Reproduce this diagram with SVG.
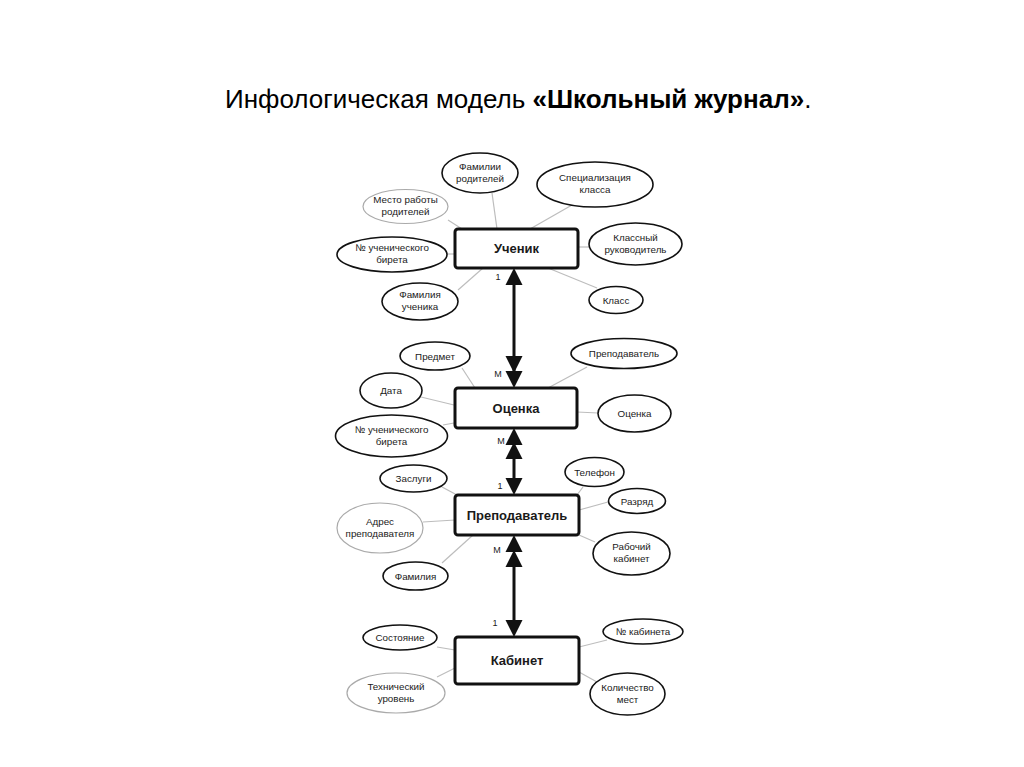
<svg xmlns="http://www.w3.org/2000/svg" xmlns:xlink="http://www.w3.org/1999/xlink" width="1024" height="767" viewBox="0 0 1024 767">
<style>
text{font-family:"Liberation Sans",Arial,sans-serif;fill:#1a1a1a}
.title{font-size:26px;fill:#000}
.ent rect{fill:#fff;stroke:#111;stroke-width:3}
.ent text{font-size:13px;font-weight:bold;text-anchor:middle}
.att ellipse{fill:#fff;stroke:#111;stroke-width:1.6}
.att.g ellipse{stroke:#aaa;stroke-width:1.2}
.att text{font-size:9.8px;text-anchor:middle}
.conn line.a{stroke:#bdbdbd;stroke-width:1.2}
.conn line.r{stroke:#111;stroke-width:3}
.conn use{fill:#111}
.card{font-size:9px;text-anchor:middle}
</style>
<defs>
<polygon id="up" points="0,0 -8.5,17 8.5,17"/>
<polygon id="dn" points="0,0 -8.5,-17 8.5,-17"/>
</defs>
<rect width="1024" height="767" fill="#fff"/>
<text class="title" x="225" y="108">Инфологическая модель <tspan font-weight="bold">«Школьный журнал»</tspan>.</text>

<g class="conn" id="connectors">
<line class="a" x1="448" y1="220" x2="462" y2="229"/>
<line class="a" x1="492" y1="193" x2="497" y2="229"/>
<line class="a" x1="572" y1="205" x2="530" y2="229"/>
<line class="a" x1="447" y1="254" x2="455" y2="254"/>
<line class="a" x1="578" y1="247" x2="589" y2="247"/>
<line class="a" x1="458" y1="290" x2="483" y2="268"/>
<line class="a" x1="597" y1="288" x2="548" y2="268"/>
<line class="a" x1="462" y1="368" x2="475" y2="388"/>
<line class="a" x1="587" y1="367" x2="548" y2="388"/>
<line class="a" x1="421" y1="397" x2="454" y2="405"/>
<line class="a" x1="577" y1="412" x2="598" y2="413"/>
<line class="a" x1="443" y1="425" x2="454" y2="423"/>
<line class="a" x1="442" y1="487" x2="457" y2="495"/>
<line class="a" x1="583" y1="487" x2="577" y2="495"/>
<line class="a" x1="608" y1="502" x2="579" y2="510"/>
<line class="a" x1="423" y1="522" x2="455" y2="520"/>
<line class="a" x1="595" y1="542" x2="579" y2="535"/>
<line class="a" x1="442" y1="563" x2="473" y2="535"/>
<line class="a" x1="437" y1="647" x2="455" y2="650"/>
<line class="a" x1="607" y1="640" x2="579" y2="647"/>
<line class="a" x1="437" y1="677" x2="455" y2="668"/>
<line class="a" x1="597" y1="682" x2="579" y2="672"/>
<line class="r" x1="514" y1="280" x2="514" y2="375"/>
<line class="r" x1="514" y1="450" x2="514" y2="485"/>
<line class="r" x1="514" y1="560" x2="514" y2="625"/>
<use xlink:href="#up" x="514" y="268"/>
<use xlink:href="#dn" x="514" y="373"/>
<use xlink:href="#dn" x="514" y="388"/>
<use xlink:href="#up" x="514" y="428"/>
<use xlink:href="#up" x="514" y="442"/>
<use xlink:href="#dn" x="514" y="495"/>
<use xlink:href="#up" x="514" y="535"/>
<use xlink:href="#up" x="514" y="550"/>
<use xlink:href="#dn" x="514" y="637"/>
<text class="card" x="498" y="280">1</text>
<text class="card" x="498" y="377">M</text>
<text class="card" x="501" y="444">M</text>
<text class="card" x="500" y="489">1</text>
<text class="card" x="497" y="553">M</text>
<text class="card" x="495" y="626">1</text>
</g>

<g class="ent" id="uchenik"><rect x="455" y="229" width="123" height="39" rx="3"/><text x="516.5" y="253">Ученик</text></g>
<g class="ent" id="ocenka"><rect x="455" y="388" width="122" height="40" rx="3"/><text x="516" y="412.5">Оценка</text></g>
<g class="ent" id="prepodavatel"><rect x="455" y="495" width="124" height="40" rx="3"/><text x="517" y="519.5">Преподаватель</text></g>
<g class="ent" id="kabinet"><rect x="455" y="637" width="124" height="47" rx="3"/><text x="517" y="665">Кабинет</text></g>

<g class="att" id="a-familii-roditeley"><ellipse cx="480" cy="173" rx="38" ry="20"/><text x="480" y="169.5">Фамилии</text><text x="480" y="181.5">родителей</text></g>
<g class="att" id="a-specializaciya"><ellipse cx="595" cy="184.5" rx="58" ry="22.5"/><text x="595" y="181">Специализация</text><text x="595" y="193">класса</text></g>
<g class="att g" id="a-mesto-raboty"><ellipse cx="405.5" cy="206.5" rx="42.5" ry="17"/><text x="405.5" y="203">Место работы</text><text x="405.5" y="215">родителей</text></g>
<g class="att" id="a-nomer-bileta-1"><ellipse cx="392" cy="254.5" rx="55" ry="17.5"/><text x="392" y="251">№ ученического</text><text x="392" y="263">бирета</text></g>
<g class="att" id="a-klassnyy"><ellipse cx="635.5" cy="244" rx="46.5" ry="21"/><text x="635.5" y="240.5">Классный</text><text x="635.5" y="252.5">руководитель</text></g>
<g class="att" id="a-familiya-uchenika"><ellipse cx="420" cy="301.5" rx="38" ry="18.5"/><text x="420" y="298">Фамилия</text><text x="420" y="310">ученика</text></g>
<g class="att" id="a-klass"><ellipse cx="616" cy="300" rx="27" ry="13.5"/><text x="616" y="303.5">Класс</text></g>

<g class="att" id="a-predmet"><ellipse cx="435" cy="356" rx="35" ry="14"/><text x="435" y="359.5">Предмет</text></g>
<g class="att" id="a-prepodavatel"><ellipse cx="624" cy="353.5" rx="53" ry="15"/><text x="624" y="357">Преподаватель</text></g>
<g class="att" id="a-data"><ellipse cx="391" cy="390.5" rx="31" ry="17.5"/><text x="391" y="394">Дата</text></g>
<g class="att" id="a-ocenka"><ellipse cx="634.5" cy="413.5" rx="36.5" ry="18.5"/><text x="634.5" y="417">Оценка</text></g>
<g class="att" id="a-nomer-bileta-2"><ellipse cx="391.5" cy="436" rx="56" ry="21"/><text x="391.5" y="432.5">№ ученического</text><text x="391.5" y="444.5">бирета</text></g>

<g class="att" id="a-zaslugi"><ellipse cx="413.5" cy="478.5" rx="33.5" ry="13.5"/><text x="413.5" y="482">Заслуги</text></g>
<g class="att" id="a-telefon"><ellipse cx="594.5" cy="472" rx="29.5" ry="14.5"/><text x="594.5" y="475.5">Телефон</text></g>
<g class="att" id="a-razryad"><ellipse cx="637" cy="501" rx="28.5" ry="12.5"/><text x="637" y="504.5">Разряд</text></g>
<g class="att g" id="a-adres"><ellipse cx="380" cy="528" rx="43" ry="25"/><text x="380" y="524.5">Адрес</text><text x="380" y="536.5">преподавателя</text></g>
<g class="att" id="a-rabochiy"><ellipse cx="631.5" cy="553.5" rx="38.5" ry="21.5"/><text x="631.5" y="550">Рабочий</text><text x="631.5" y="562">кабинет</text></g>
<g class="att" id="a-familiya"><ellipse cx="415.5" cy="576" rx="32.5" ry="14"/><text x="415.5" y="579.5">Фамилия</text></g>

<g class="att" id="a-sostoyanie"><ellipse cx="400" cy="637.5" rx="37" ry="12.5"/><text x="400" y="641">Состояние</text></g>
<g class="att" id="a-nomer-kabineta"><ellipse cx="643" cy="631.5" rx="40" ry="12.5"/><text x="643" y="635">№ кабинета</text></g>
<g class="att g" id="a-tehnicheskiy"><ellipse cx="396" cy="693" rx="49" ry="20"/><text x="396" y="689.5">Технический</text><text x="396" y="701.5">уровень</text></g>
<g class="att" id="a-kolichestvo"><ellipse cx="627.5" cy="694" rx="37.5" ry="21"/><text x="627.5" y="690.5">Количество</text><text x="627.5" y="702.5">мест</text></g>
</svg>
